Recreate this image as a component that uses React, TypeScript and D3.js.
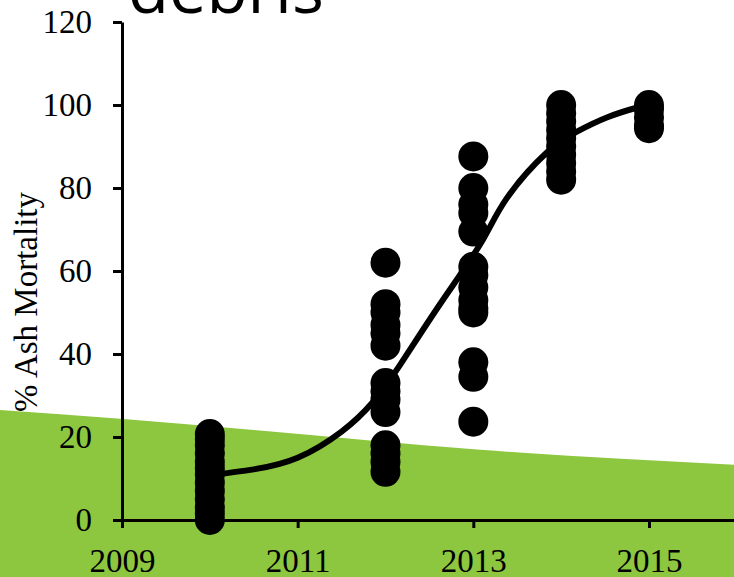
import React, { useEffect, useRef } from "react";
import * as d3 from "d3";

// ---- data ----
const sampleYears = [2010, 2012, 2013, 2014, 2015];
const mortality2010 = [0, 1.5, 3, 5, 7, 9, 11, 12.5, 14, 16, 18, 19.5, 20.7];
const mortality2012 = [62, 52, 50, 47, 45, 42, 33, 31, 29, 26, 18, 16, 14, 11.6];
const mortality2013 = [87.6, 80, 76, 74, 69.5, 61, 59, 56, 53, 51, 50, 38, 34.5, 23.7];
const mortality2014 = [100, 98, 96, 94, 92, 90, 88, 86, 84, 82];
const mortality2015 = [100, 99, 97, 95, 94.4];
const mortalityByYear = [mortality2010, mortality2012, mortality2013, mortality2014, mortality2015];

const fitYears = [2010, 2010.5, 2011, 2011.5, 2011.86, 2012.17, 2012.62, 2013.08, 2013.38, 2013.84, 2014.18, 2014.52, 2014.87, 2015];
const fitValues = [10.8, 12.2, 15.0, 21.3, 28.5, 37.5, 52, 66.5, 77.5, 88.6, 93.6, 97, 99.4, 100];

// decorative green band boundary (in data units)
const bandYears = [2007.61, 2008.98, 2010.5, 2013.08, 2015.97];
const bandValues = [26.5, 24.4, 21.7, 16.9, 13.3];
const bandBottom = -14;

const yTicks = [0, 20, 40, 60, 80, 100, 120];
const xTicks = [2009, 2011, 2013, 2015];

const titleText = "debris";
const yLabel = "% Ash Mortality";

const W = 734;
const H = 577;

export default function App() {
  const xAxisRef = useRef<SVGGElement>(null);
  const yAxisRef = useRef<SVGGElement>(null);

  const x = d3.scaleLinear().domain([2009, 2016]).range([122, 122 + 7 * 87.83]);
  const y = d3.scaleLinear().domain([0, 120]).range([520, 22]);

  useEffect(() => {
    const serif = "'Liberation Serif', 'Times New Roman', serif";
    if (xAxisRef.current) {
      const g = d3.select(xAxisRef.current);
      g.call(
        d3.axisBottom(x).tickValues(xTicks).tickFormat(d3.format("d")).tickSize(8).tickSizeOuter(0).tickPadding(21)
      );
      g.select(".domain").attr("stroke", "#000").attr("stroke-width", 3);
      g.selectAll(".tick line").attr("stroke", "#000").attr("stroke-width", 3);
      g.selectAll(".tick text").attr("font-family", serif).attr("font-size", 33).attr("fill", "#000");
    }
    if (yAxisRef.current) {
      const g = d3.select(yAxisRef.current);
      g.call(d3.axisLeft(y).tickValues(yTicks).tickSize(9).tickSizeOuter(0).tickPadding(21));
      g.select(".domain").attr("stroke", "#000").attr("stroke-width", 3);
      g.selectAll(".tick line").attr("stroke", "#000").attr("stroke-width", 3);
      g.selectAll(".tick text").attr("font-family", serif).attr("font-size", 33).attr("fill", "#000");
    }
  }, []);

  const bandTop = d3
    .area<number>()
    .x((_, i) => x(bandYears[i]))
    .y0(() => y(bandBottom))
    .y1((d) => y(d))
    .curve(d3.curveMonotoneX)(bandValues);

  const fitPath = d3
    .line<number>()
    .x((_, i) => x(fitYears[i]))
    .y((d) => y(d))
    .curve(d3.curveNatural)(fitValues);

  const points: { yr: number; v: number }[] = [];
  sampleYears.forEach((yr, i) => mortalityByYear[i].forEach((v) => points.push({ yr, v })));

  return (
    <svg
      width={W}
      height={H}
      style={{ position: "absolute", left: 0, top: 0, background: "#fff" }}
    >
      <path d={bandTop || ""} fill="#8DC63F" />
      <text
        x={128}
        y={13}
        fontFamily="'Open Sans', sans-serif"
        fontSize={67}
        fill="#000"
      >
        {titleText}
      </text>
      <text
        transform={`translate(37, 302) rotate(-90)`}
        textAnchor="middle"
        fontFamily="'Liberation Serif', 'Times New Roman', serif"
        fontSize={33}
        fill="#000"
      >
        {yLabel}
      </text>
      <g ref={yAxisRef} transform={`translate(${x(2009)},0)`} />
      <g ref={xAxisRef} transform={`translate(0,${y(0)})`} />
      {points.map((p, i) => (
        <circle key={i} cx={x(p.yr)} cy={y(p.v)} r={15} fill="#000" />
      ))}
      <path d={fitPath || ""} fill="none" stroke="#000" strokeWidth={6} />
    </svg>
  );
}
